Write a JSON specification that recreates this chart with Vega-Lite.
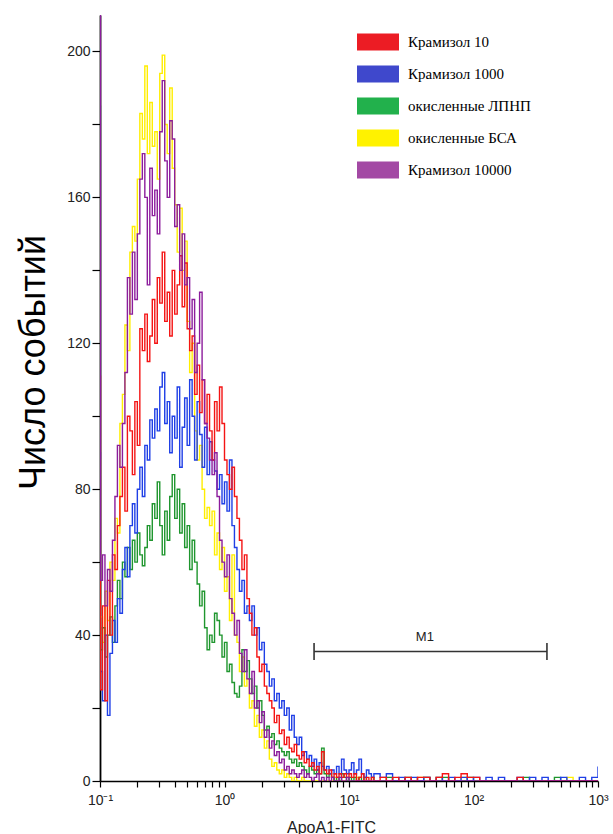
{
  "$schema": "https://vega.github.io/schema/vega-lite/v6.json",
  "width": 498,
  "height": 766,
  "autosize": "none",
  "padding": {"left": 100, "top": 15, "right": 15, "bottom": 53},
  "background": "white",
  "config": {"view": {"stroke": null}, "font": "Liberation Sans"},
  "datasets": {
    "hist": [
      {"x":0.1,"k10":111,"k1000":90,"ldl":185,"bsa":88,"k10000":210},
      {"x":0.1008,"k10":25,"k1000":30,"ldl":36,"bsa":45,"k10000":55},
      {"x":0.1047,"k10":48,"k1000":22,"ldl":42,"bsa":38,"k10000":62},
      {"x":0.1096,"k10":22,"k1000":40,"ldl":34,"bsa":52,"k10000":48},
      {"x":0.1148,"k10":55,"k1000":18,"ldl":40,"bsa":44,"k10000":58},
      {"x":0.1202,"k10":40,"k1000":35,"ldl":45,"bsa":60,"k10000":52},
      {"x":0.1259,"k10":62,"k1000":44,"ldl":38,"bsa":55,"k10000":66},
      {"x":0.1318,"k10":58,"k1000":38,"ldl":48,"bsa":72,"k10000":78},
      {"x":0.138,"k10":70,"k1000":50,"ldl":55,"bsa":68,"k10000":92},
      {"x":0.1445,"k10":78,"k1000":46,"ldl":50,"bsa":98,"k10000":86},
      {"x":0.1514,"k10":86,"k1000":58,"ldl":60,"bsa":106,"k10000":98},
      {"x":0.1585,"k10":74,"k1000":64,"ldl":56,"bsa":125,"k10000":112},
      {"x":0.166,"k10":100,"k1000":56,"ldl":64,"bsa":118,"k10000":138},
      {"x":0.1738,"k10":96,"k1000":70,"ldl":58,"bsa":145,"k10000":128},
      {"x":0.182,"k10":84,"k1000":76,"ldl":66,"bsa":152,"k10000":145},
      {"x":0.1905,"k10":104,"k1000":68,"ldl":60,"bsa":148,"k10000":132},
      {"x":0.1995,"k10":92,"k1000":80,"ldl":68,"bsa":165,"k10000":150},
      {"x":0.2089,"k10":124,"k1000":86,"ldl":62,"bsa":183,"k10000":165},
      {"x":0.2188,"k10":118,"k1000":78,"ldl":59,"bsa":176,"k10000":172},
      {"x":0.2291,"k10":128,"k1000":92,"ldl":64,"bsa":196,"k10000":160},
      {"x":0.2399,"k10":115,"k1000":88,"ldl":70,"bsa":172,"k10000":136},
      {"x":0.2512,"k10":122,"k1000":99,"ldl":66,"bsa":186,"k10000":168},
      {"x":0.263,"k10":132,"k1000":94,"ldl":76,"bsa":174,"k10000":155},
      {"x":0.2754,"k10":120,"k1000":102,"ldl":72,"bsa":178,"k10000":162},
      {"x":0.2884,"k10":138,"k1000":96,"ldl":82,"bsa":165,"k10000":150},
      {"x":0.302,"k10":131,"k1000":108,"ldl":70,"bsa":194,"k10000":178},
      {"x":0.3162,"k10":145,"k1000":112,"ldl":62,"bsa":199,"k10000":192},
      {"x":0.3311,"k10":126,"k1000":98,"ldl":74,"bsa":180,"k10000":170},
      {"x":0.3467,"k10":134,"k1000":104,"ldl":66,"bsa":172,"k10000":160},
      {"x":0.3631,"k10":122,"k1000":90,"ldl":78,"bsa":190,"k10000":181},
      {"x":0.3802,"k10":140,"k1000":100,"ldl":84,"bsa":168,"k10000":176},
      {"x":0.3981,"k10":128,"k1000":94,"ldl":72,"bsa":158,"k10000":152},
      {"x":0.4169,"k10":136,"k1000":108,"ldl":80,"bsa":145,"k10000":158},
      {"x":0.4365,"k10":144,"k1000":86,"ldl":68,"bsa":157,"k10000":140},
      {"x":0.4571,"k10":130,"k1000":97,"ldl":76,"bsa":140,"k10000":150},
      {"x":0.4786,"k10":142,"k1000":105,"ldl":64,"bsa":148,"k10000":136},
      {"x":0.5012,"k10":124,"k1000":92,"ldl":70,"bsa":126,"k10000":138},
      {"x":0.5248,"k10":118,"k1000":110,"ldl":58,"bsa":112,"k10000":124},
      {"x":0.5495,"k10":122,"k1000":100,"ldl":66,"bsa":120,"k10000":132},
      {"x":0.5754,"k10":106,"k1000":88,"ldl":60,"bsa":96,"k10000":112},
      {"x":0.6026,"k10":114,"k1000":104,"ldl":54,"bsa":88,"k10000":120},
      {"x":0.631,"k10":101,"k1000":95,"ldl":48,"bsa":92,"k10000":134},
      {"x":0.6607,"k10":110,"k1000":86,"ldl":52,"bsa":80,"k10000":110},
      {"x":0.6918,"k10":98,"k1000":97,"ldl":42,"bsa":72,"k10000":98},
      {"x":0.7244,"k10":106,"k1000":84,"ldl":36,"bsa":75,"k10000":94},
      {"x":0.7586,"k10":96,"k1000":93,"ldl":40,"bsa":70,"k10000":88},
      {"x":0.7943,"k10":88,"k1000":88,"ldl":38,"bsa":74,"k10000":84},
      {"x":0.8318,"k10":104,"k1000":85,"ldl":46,"bsa":62,"k10000":90},
      {"x":0.871,"k10":96,"k1000":80,"ldl":44,"bsa":68,"k10000":78},
      {"x":0.912,"k10":108,"k1000":84,"ldl":40,"bsa":58,"k10000":66},
      {"x":0.955,"k10":98,"k1000":76,"ldl":34,"bsa":64,"k10000":60},
      {"x":1.0,"k10":88,"k1000":82,"ldl":38,"bsa":52,"k10000":56},
      {"x":1.047,"k10":84,"k1000":74,"ldl":30,"bsa":56,"k10000":62},
      {"x":1.096,"k10":80,"k1000":88,"ldl":32,"bsa":44,"k10000":50},
      {"x":1.148,"k10":86,"k1000":70,"ldl":27,"bsa":62,"k10000":46},
      {"x":1.202,"k10":78,"k1000":64,"ldl":24,"bsa":40,"k10000":40},
      {"x":1.259,"k10":72,"k1000":58,"ldl":23,"bsa":38,"k10000":44},
      {"x":1.318,"k10":66,"k1000":52,"ldl":26,"bsa":30,"k10000":35},
      {"x":1.38,"k10":58,"k1000":55,"ldl":36,"bsa":34,"k10000":30},
      {"x":1.445,"k10":62,"k1000":46,"ldl":30,"bsa":26,"k10000":36},
      {"x":1.514,"k10":50,"k1000":48,"ldl":33,"bsa":28,"k10000":28},
      {"x":1.585,"k10":46,"k1000":44,"ldl":28,"bsa":20,"k10000":24},
      {"x":1.66,"k10":40,"k1000":48,"ldl":24,"bsa":22,"k10000":30},
      {"x":1.738,"k10":42,"k1000":40,"ldl":26,"bsa":15,"k10000":20},
      {"x":1.82,"k10":34,"k1000":42,"ldl":20,"bsa":18,"k10000":22},
      {"x":1.905,"k10":30,"k1000":36,"ldl":22,"bsa":12,"k10000":16},
      {"x":1.995,"k10":32,"k1000":38,"ldl":18,"bsa":14,"k10000":19},
      {"x":2.089,"k10":26,"k1000":32,"ldl":14,"bsa":9,"k10000":12},
      {"x":2.188,"k10":24,"k1000":30,"ldl":15,"bsa":11,"k10000":14},
      {"x":2.291,"k10":22,"k1000":26,"ldl":12,"bsa":6,"k10000":9},
      {"x":2.399,"k10":20,"k1000":28,"ldl":13,"bsa":4,"k10000":11},
      {"x":2.512,"k10":16,"k1000":22,"ldl":10,"bsa":5,"k10000":7},
      {"x":2.63,"k10":18,"k1000":24,"ldl":11,"bsa":3,"k10000":8},
      {"x":2.754,"k10":13,"k1000":20,"ldl":9,"bsa":2,"k10000":5},
      {"x":2.884,"k10":14,"k1000":22,"ldl":8,"bsa":3,"k10000":6},
      {"x":3.02,"k10":10,"k1000":18,"ldl":7,"bsa":1,"k10000":3},
      {"x":3.162,"k10":12,"k1000":20,"ldl":8,"bsa":2,"k10000":4},
      {"x":3.311,"k10":9,"k1000":14,"ldl":6,"bsa":1,"k10000":2},
      {"x":3.467,"k10":8,"k1000":18,"ldl":5,"bsa":0,"k10000":3},
      {"x":3.631,"k10":10,"k1000":12,"ldl":6,"bsa":1,"k10000":2},
      {"x":3.802,"k10":7,"k1000":10,"ldl":4,"bsa":0,"k10000":1},
      {"x":3.981,"k10":6,"k1000":12,"ldl":5,"bsa":0,"k10000":2},
      {"x":4.169,"k10":8,"k1000":7,"ldl":4,"bsa":1,"k10000":3},
      {"x":4.365,"k10":5,"k1000":8,"ldl":3,"bsa":0,"k10000":1},
      {"x":4.571,"k10":6,"k1000":6,"ldl":2,"bsa":0,"k10000":2},
      {"x":4.786,"k10":4,"k1000":7,"ldl":4,"bsa":0,"k10000":1},
      {"x":5.012,"k10":5,"k1000":4,"ldl":3,"bsa":0,"k10000":0},
      {"x":5.248,"k10":3,"k1000":6,"ldl":2,"bsa":0,"k10000":1},
      {"x":5.495,"k10":4,"k1000":3,"ldl":3,"bsa":0,"k10000":2},
      {"x":5.754,"k10":2,"k1000":5,"ldl":2,"bsa":0,"k10000":0},
      {"x":6.026,"k10":8,"k1000":4,"ldl":9,"bsa":0,"k10000":1},
      {"x":6.31,"k10":3,"k1000":3,"ldl":2,"bsa":0,"k10000":0},
      {"x":6.607,"k10":2,"k1000":4,"ldl":1,"bsa":0,"k10000":1},
      {"x":6.918,"k10":3,"k1000":2,"ldl":2,"bsa":0,"k10000":0},
      {"x":7.244,"k10":1,"k1000":3,"ldl":1,"bsa":0,"k10000":1},
      {"x":7.586,"k10":2,"k1000":2,"ldl":0,"bsa":1,"k10000":0},
      {"x":7.943,"k10":1,"k1000":4,"ldl":1,"bsa":0,"k10000":0},
      {"x":8.318,"k10":2,"k1000":2,"ldl":0,"bsa":0,"k10000":1},
      {"x":8.71,"k10":1,"k1000":6,"ldl":2,"bsa":0,"k10000":0},
      {"x":9.12,"k10":2,"k1000":3,"ldl":1,"bsa":0,"k10000":0},
      {"x":9.55,"k10":1,"k1000":2,"ldl":0,"bsa":0,"k10000":1},
      {"x":10,"k10":2,"k1000":3,"ldl":1,"bsa":0,"k10000":0},
      {"x":10.47,"k10":1,"k1000":5,"ldl":0,"bsa":0,"k10000":0},
      {"x":10.96,"k10":2,"k1000":2,"ldl":1,"bsa":0,"k10000":0},
      {"x":11.48,"k10":0,"k1000":3,"ldl":0,"bsa":1,"k10000":0},
      {"x":12.02,"k10":1,"k1000":6,"ldl":1,"bsa":0,"k10000":0},
      {"x":12.59,"k10":2,"k1000":2,"ldl":0,"bsa":0,"k10000":0},
      {"x":13.18,"k10":0,"k1000":1,"ldl":1,"bsa":0,"k10000":0},
      {"x":13.8,"k10":1,"k1000":3,"ldl":0,"bsa":0,"k10000":0},
      {"x":14.45,"k10":0,"k1000":2,"ldl":0,"bsa":0,"k10000":0},
      {"x":15.14,"k10":1,"k1000":1,"ldl":1,"bsa":0,"k10000":0},
      {"x":15.85,"k10":0,"k1000":2,"ldl":0,"bsa":0,"k10000":0},
      {"x":17.78,"k10":1,"k1000":1,"ldl":0,"bsa":0,"k10000":0},
      {"x":19.95,"k10":0,"k1000":2,"ldl":1,"bsa":0,"k10000":0},
      {"x":22.39,"k10":1,"k1000":0,"ldl":0,"bsa":0,"k10000":0},
      {"x":25.12,"k10":0,"k1000":1,"ldl":0,"bsa":0,"k10000":0},
      {"x":28.18,"k10":1,"k1000":0,"ldl":1,"bsa":0,"k10000":0},
      {"x":31.62,"k10":0,"k1000":1,"ldl":0,"bsa":0,"k10000":0},
      {"x":35.48,"k10":1,"k1000":0,"ldl":0,"bsa":1,"k10000":0},
      {"x":39.81,"k10":1,"k1000":1,"ldl":1,"bsa":0,"k10000":0},
      {"x":44.67,"k10":0,"k1000":0,"ldl":0,"bsa":0,"k10000":0},
      {"x":50.12,"k10":1,"k1000":1,"ldl":0,"bsa":1,"k10000":0},
      {"x":56.23,"k10":2,"k1000":0,"ldl":1,"bsa":0,"k10000":0},
      {"x":63.1,"k10":0,"k1000":1,"ldl":0,"bsa":0,"k10000":0},
      {"x":70.79,"k10":1,"k1000":0,"ldl":0,"bsa":0,"k10000":0},
      {"x":79.43,"k10":2,"k1000":1,"ldl":0,"bsa":1,"k10000":0},
      {"x":89.13,"k10":1,"k1000":0,"ldl":1,"bsa":0,"k10000":0},
      {"x":100,"k10":1,"k1000":1,"ldl":0,"bsa":0,"k10000":0},
      {"x":112.2,"k10":0,"k1000":0,"ldl":0,"bsa":0,"k10000":0},
      {"x":125.9,"k10":0,"k1000":1,"ldl":0,"bsa":0,"k10000":0},
      {"x":141.3,"k10":0,"k1000":0,"ldl":0,"bsa":0,"k10000":0},
      {"x":158.5,"k10":0,"k1000":1,"ldl":0,"bsa":0,"k10000":0},
      {"x":177.8,"k10":0,"k1000":0,"ldl":0,"bsa":0,"k10000":0},
      {"x":199.5,"k10":0,"k1000":0,"ldl":0,"bsa":0,"k10000":0},
      {"x":223.9,"k10":1,"k1000":1,"ldl":0,"bsa":0,"k10000":0},
      {"x":251.2,"k10":0,"k1000":0,"ldl":1,"bsa":0,"k10000":0},
      {"x":281.8,"k10":0,"k1000":1,"ldl":0,"bsa":0,"k10000":0},
      {"x":316.2,"k10":0,"k1000":0,"ldl":0,"bsa":0,"k10000":0},
      {"x":354.8,"k10":0,"k1000":1,"ldl":0,"bsa":0,"k10000":0},
      {"x":398.1,"k10":0,"k1000":0,"ldl":0,"bsa":0,"k10000":0},
      {"x":446.7,"k10":0,"k1000":0,"ldl":1,"bsa":0,"k10000":0},
      {"x":501.2,"k10":0,"k1000":1,"ldl":0,"bsa":0,"k10000":0},
      {"x":562.3,"k10":0,"k1000":0,"ldl":0,"bsa":1,"k10000":0},
      {"x":631,"k10":0,"k1000":0,"ldl":0,"bsa":0,"k10000":0},
      {"x":707.9,"k10":0,"k1000":1,"ldl":0,"bsa":0,"k10000":0},
      {"x":794.3,"k10":0,"k1000":0,"ldl":0,"bsa":0,"k10000":0},
      {"x":891.3,"k10":0,"k1000":1,"ldl":0,"bsa":0,"k10000":0},
      {"x":1000,"k10":0,"k1000":4,"ldl":0,"bsa":0,"k10000":0}
    ],
    "samples": [
      {"sample": "Крамизол 10"}, {"sample": "Крамизол 1000"}, {"sample": "окисленные ЛПНП"}, {"sample": "окисленные БСА"}, {"sample": "Крамизол 10000"}
    ],
    "gate": [{"name": "M1", "x": 5.24, "x2": 389, "y": 35.5, "ylo": 33.2, "yhi": 37.8, "xmid": 40.7, "ylab": 39.5}]
  },
  "layer": [
    {
      "data": {"name": "hist"},
      "transform": [{"fold": ["bsa", "ldl", "k1000", "k10", "k10000"], "as": ["series", "count"]}],
      "mark": {"type": "line", "interpolate": "step-after", "strokeWidth": 1.4, "clip": true},
      "encoding": {
        "x": {
          "field": "x", "type": "quantitative",
          "scale": {"type": "log", "domain": [0.1, 1000], "nice": false},
          "axis": {
            "values": [0.1,0.2,0.3,0.4,0.5,0.6,0.7,0.8,0.9,1,2,3,4,5,6,7,8,9,10,20,30,40,50,60,70,80,90,100,200,300,400,500,600,700,800,900,1000],
            "labelExpr": "datum.value == 0.1 ? '10⁻¹' : datum.value == 1 ? '10⁰' : datum.value == 10 ? '10¹' : datum.value == 100 ? '10²' : datum.value == 1000 ? '10³' : ''",
            "grid": false, "labelOverlap": false, "labelFlush": false,
            "tickSize": 6, "tickColor": "black", "tickWidth": 1.2,
            "domainColor": "black", "domainWidth": 1.6,
            "labelFontSize": 14, "labelColor": "#222", "labelPadding": 6,
            "title": "ApoA1-FITC", "titleFontSize": 16, "titleFontWeight": "normal", "titleColor": "#222",
            "titleX": 231, "titleY": 51, "titleBaseline": "alphabetic"
          }
        },
        "y": {
          "field": "count", "type": "quantitative",
          "scale": {"domain": [0, 210], "nice": false},
          "axis": {
            "values": [0,10,20,30,40,50,60,70,80,90,100,110,120,130,140,150,160,170,180,190,200],
            "labelExpr": "datum.value % 40 === 0 ? datum.label : ''",
            "grid": false, "labelOverlap": false,
            "tickSize": 8, "tickColor": "black", "tickWidth": 1.2,
            "domainColor": "black", "domainWidth": 1.8,
            "labelFontSize": 14, "labelColor": "#222", "labelPadding": 2,
            "title": "Число событий", "titleFontSize": 36, "titleFontWeight": "normal", "titleColor": "black",
            "titleAngle": 270, "titleX": -56, "titleY": 347, "titleBaseline": "alphabetic", "titleAlign": "center"
          }
        },
        "color": {
          "field": "series", "type": "nominal",
          "scale": {"domain": ["k10", "k1000", "ldl", "bsa", "k10000"], "range": ["#f41414", "#1f3fe6", "#1f962e", "#ffee00", "#8c1c9c"]},
          "legend": null
        }
      }
    },
    {
      "data": {"name": "samples"},
      "mark": {"type": "square", "filled": true, "size": 0},
      "encoding": {
        "fill": {
          "field": "sample", "type": "nominal",
          "scale": {"domain": ["Крамизол 10", "Крамизол 1000", "окисленные ЛПНП", "окисленные БСА", "Крамизол 10000"], "range": ["#ec1c24", "#3f48cc", "#22b14c", "#fff200", "#a349a4"]},
          "legend": {
            "orient": "none", "legendX": 264, "legendY": 13, "title": null, "padding": 0,
            "symbolType": "M-1.5,-0.6H1.5V0.6H-1.5Z", "symbolSize": 784,
            "symbolStrokeWidth": 0, "symbolOpacity": 1,
            "labelFont": "Liberation Serif",
            "labelFontSize": 15, "labelColor": "black", "labelOffset": 16, "labelLimit": 300,
            "rowPadding": 9
          }
        }
      }
    },
    {
      "data": {"name": "gate"},
      "mark": {"type": "rule", "color": "#333", "strokeWidth": 1.6},
      "encoding": {
        "x": {"field": "x", "type": "quantitative"},
        "x2": {"field": "x2"},
        "y": {"field": "y", "type": "quantitative"}
      }
    },
    {
      "data": {"name": "gate"},
      "mark": {"type": "rule", "color": "#333", "strokeWidth": 1.6},
      "encoding": {
        "x": {"field": "x", "type": "quantitative"},
        "y": {"field": "ylo", "type": "quantitative"},
        "y2": {"field": "yhi"}
      }
    },
    {
      "data": {"name": "gate"},
      "mark": {"type": "rule", "color": "#333", "strokeWidth": 1.6},
      "encoding": {
        "x": {"field": "x2", "type": "quantitative"},
        "y": {"field": "ylo", "type": "quantitative"},
        "y2": {"field": "yhi"}
      }
    },
    {
      "data": {"name": "gate"},
      "mark": {"type": "text", "fontSize": 13, "color": "#222", "baseline": "middle", "font": "Liberation Sans"},
      "encoding": {
        "x": {"field": "xmid", "type": "quantitative"},
        "y": {"field": "ylab", "type": "quantitative"},
        "text": {"field": "name"}
      }
    }
  ]
}
